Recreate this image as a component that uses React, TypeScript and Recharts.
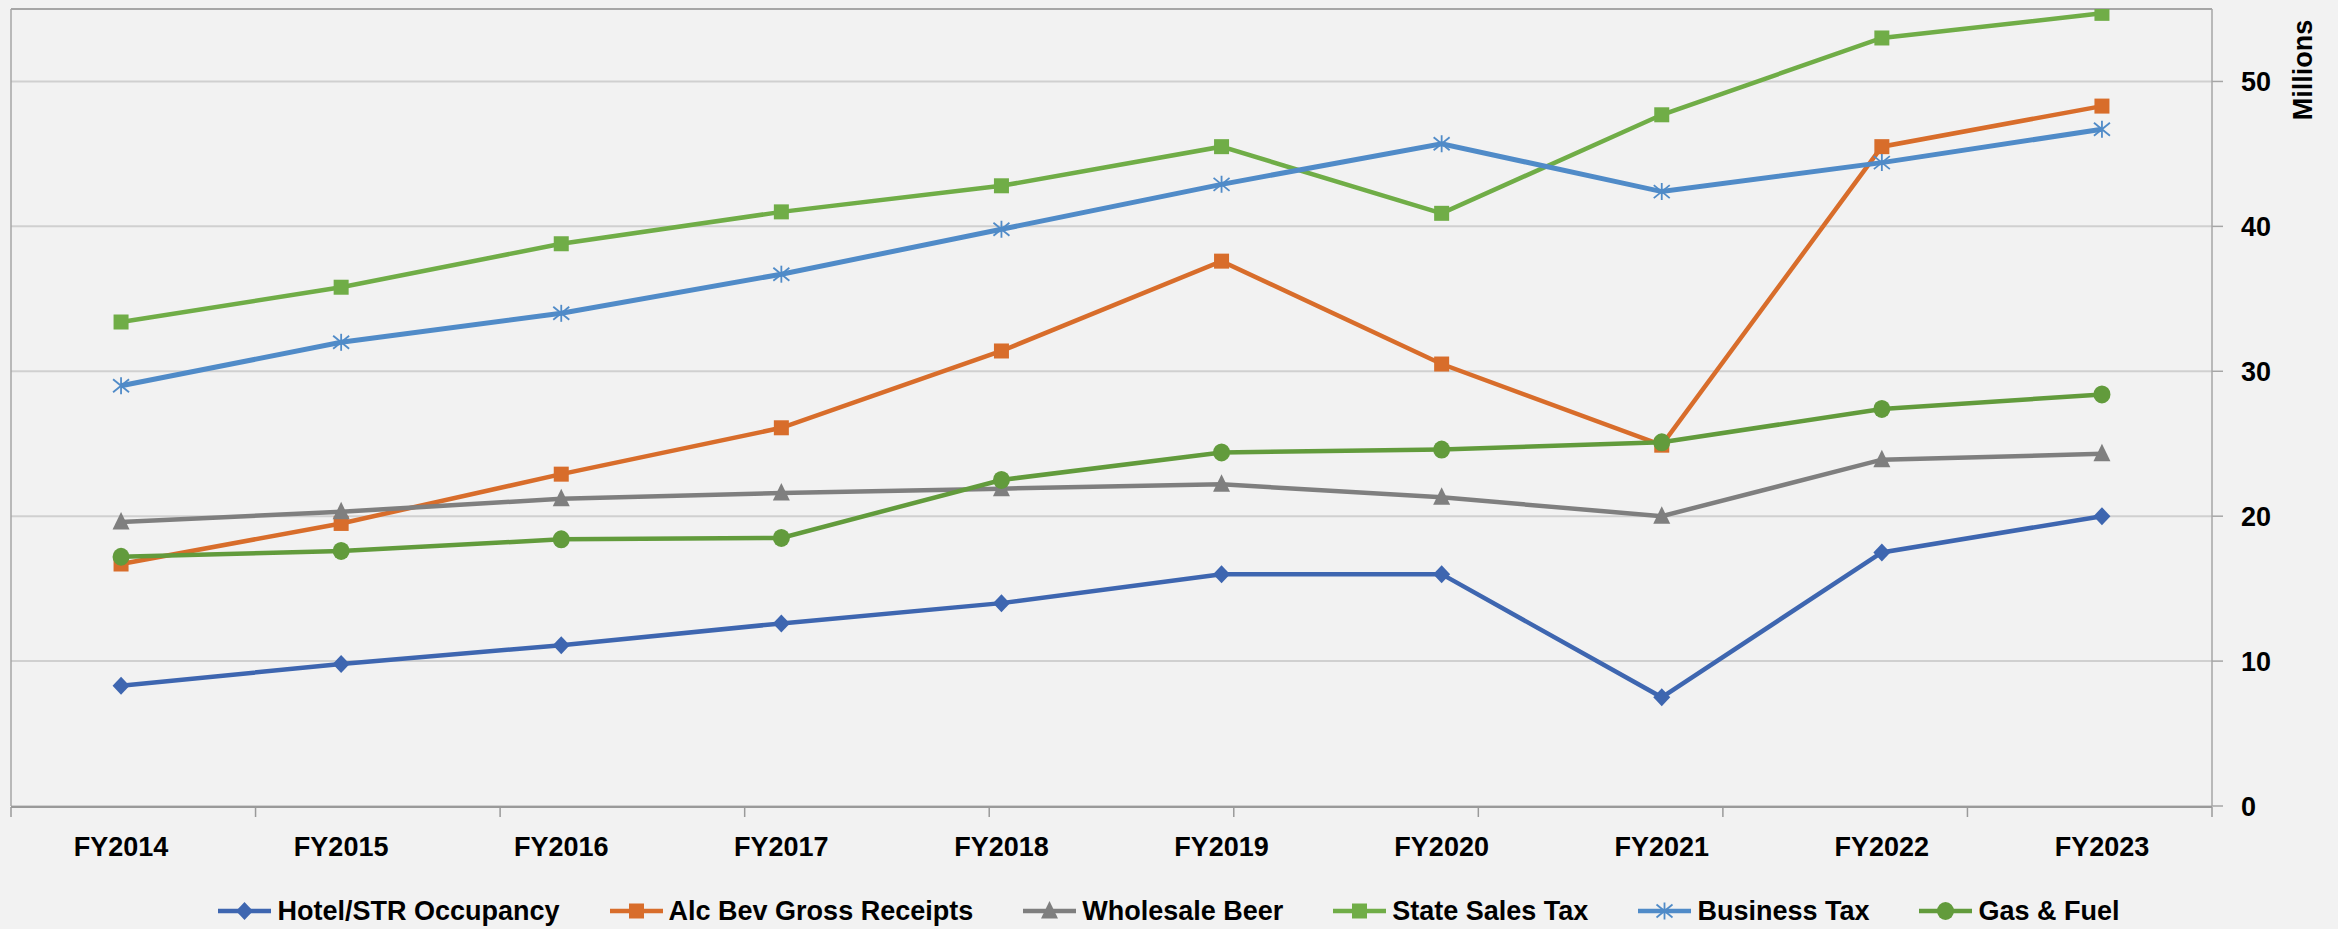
import React from 'react';
import { LineChart, Line, XAxis, YAxis, CartesianGrid, Legend, ReferenceLine } from 'recharts';

const categories = ['FY2014', 'FY2015', 'FY2016', 'FY2017', 'FY2018', 'FY2019', 'FY2020', 'FY2021', 'FY2022', 'FY2023'];
const hotel = [8.3, 9.8, 11.1, 12.6, 14.0, 16.0, 16.0, 7.5, 17.5, 20.0];
const alcBev = [16.7, 19.5, 22.9, 26.1, 31.4, 37.6, 30.5, 24.9, 45.5, 48.3];
const beer = [19.6, 20.3, 21.2, 21.6, 21.9, 22.2, 21.3, 20.0, 23.9, 24.3];
const salesTax = [33.4, 35.8, 38.8, 41.0, 42.8, 45.5, 40.9, 47.7, 53.0, 54.7];
const business = [29.0, 32.0, 34.0, 36.7, 39.8, 42.9, 45.7, 42.4, 44.4, 46.7];
const gas = [17.2, 17.6, 18.4, 18.5, 22.5, 24.4, 24.6, 25.1, 27.4, 28.4];
const yTicks = [0, 10, 20, 30, 40, 50];
const yMax = 55;

const rows = categories.map((c, i) => ({
  year: c,
  hotel: hotel[i],
  alcBev: alcBev[i],
  beer: beer[i],
  salesTax: salesTax[i],
  business: business[i],
  gas: gas[i],
}));
const boundaryTicks = categories.map((_, i) => i).concat(categories.length);

const FONT = "'Liberation Sans', Arial, sans-serif";

type MarkerFn = (cx: number, cy: number, color: string, key?: any) => React.ReactElement;

const diamond: MarkerFn = (cx, cy, color, key) => (
  <path key={key} d={`M${cx},${cy - 9}L${cx + 8.5},${cy}L${cx},${cy + 9}L${cx - 8.5},${cy}Z`} fill={color} />
);
const square: MarkerFn = (cx, cy, color, key) => (
  <rect key={key} x={cx - 7.5} y={cy - 7.5} width={15} height={15} fill={color} />
);
const triangle: MarkerFn = (cx, cy, color, key) => (
  <path key={key} d={`M${cx},${cy - 10}L${cx + 8.5},${cy + 7.5}L${cx - 8.5},${cy + 7.5}Z`} fill={color} />
);
const circle: MarkerFn = (cx, cy, color, key) => (
  <ellipse key={key} cx={cx} cy={cy} rx={8.5} ry={9} fill={color} />
);
const star: MarkerFn = (cx, cy, color, key) => (
  <g key={key} stroke={color} strokeWidth={1.8}>
    <line x1={cx} y1={cy - 8.5} x2={cx} y2={cy + 8.5} />
    <line x1={cx - 8} y1={cy - 6.5} x2={cx + 8} y2={cy + 6.5} />
    <line x1={cx - 8} y1={cy + 6.5} x2={cx + 8} y2={cy - 6.5} />
  </g>
);

const series = [
  { key: 'hotel', name: 'Hotel/STR Occupancy', color: '#3E66B0', marker: diamond, width: 4.5 },
  { key: 'alcBev', name: 'Alc Bev Gross Receipts', color: '#D86D2B', marker: square, width: 4.5 },
  { key: 'beer', name: 'Wholesale Beer', color: '#7F7F7F', marker: triangle, width: 4.5 },
  { key: 'salesTax', name: 'State Sales Tax', color: '#70AD47', marker: square, width: 4.5 },
  { key: 'business', name: 'Business Tax', color: '#508BC8', marker: star, width: 5 },
  { key: 'gas', name: 'Gas & Fuel', color: '#629B3C', marker: circle, width: 4.5 },
];

const renderLegend = () => (
  <div
    style={{
      display: 'flex',
      justifyContent: 'center',
      alignItems: 'center',
      gap: 50,
      height: 36,
      fontFamily: FONT,
      fontWeight: 'bold',
      fontSize: 27,
      color: '#000',
      whiteSpace: 'nowrap',
    }}
  >
    {series.map((s) => (
      <div key={s.key} style={{ display: 'flex', alignItems: 'center' }}>
        <svg width={53} height={24} style={{ display: 'block' }}>
          <line x1={0} y1={12} x2={53} y2={12} stroke={s.color} strokeWidth={4.5} />
          {s.marker(26.5, 12, s.color)}
        </svg>
        <span style={{ marginLeft: 6 }}>{s.name}</span>
      </div>
    ))}
  </div>
);

const MillionsLabel = (props: any) => {
  const vb = props.viewBox || {};
  const x = (vb.x || 0) + 91;
  const y = (vb.y || 0) + 61;
  return (
    <text
      x={x}
      y={y}
      transform={`rotate(-90 ${x} ${y})`}
      textAnchor="middle"
      dominantBaseline="central"
      fontFamily={FONT}
      fontWeight="bold"
      fontSize={27}
      fill="#000"
    >
      Millions
    </text>
  );
};

export default function App() {
  return (
    <div style={{ width: 2338, height: 929, background: '#F2F2F2' }}>
      <style>{`body{margin:0;background:#F2F2F2}`}</style>
      <LineChart
        width={2338}
        height={929}
        data={rows}
        margin={{ top: 9, right: 26, left: 10, bottom: 85 }}
      >
        <CartesianGrid
          xAxisId="cat"
          yAxisId="r"
          vertical={false}
          stroke="#D0D0D0"
          strokeWidth={2}
        />
        <XAxis
          xAxisId="grid"
          type="number"
          domain={[0, categories.length]}
          ticks={boundaryTicks}
          interval={0}
          tickFormatter={() => ''}
          height={1}
          tickSize={10}
          axisLine={{ stroke: '#9A9A9A', strokeWidth: 2 }}
          tickLine={{ stroke: '#9A9A9A', strokeWidth: 1.5 }}
          allowDataOverflow
        />
        <XAxis
          xAxisId="cat"
          dataKey="year"
          scale="band"
          height={1}
          axisLine={false}
          tickLine={false}
          tickSize={10}
          tickMargin={21}
          interval={0}
          tick={{ fontFamily: FONT, fontWeight: 'bold', fontSize: 27, fill: '#000' }}
        />
        <YAxis
          yAxisId="l"
          orientation="left"
          width={1}
          domain={[0, yMax]}
          tick={false}
          tickLine={false}
          axisLine={{ stroke: '#A6A6A6', strokeWidth: 1.5 }}
          allowDataOverflow
        />
        <YAxis
          yAxisId="r"
          orientation="right"
          width={100}
          domain={[0, yMax]}
          ticks={yTicks}
          interval={0}
          tickSize={11}
          tickMargin={18}
          axisLine={{ stroke: '#A6A6A6', strokeWidth: 1.5 }}
          tickLine={{ stroke: '#A6A6A6', strokeWidth: 1.5 }}
          tick={{ fontFamily: FONT, fontWeight: 'bold', fontSize: 27, fill: '#000' }}
          label={<MillionsLabel />}
          allowDataOverflow
        />
        <ReferenceLine xAxisId="cat" yAxisId="r" y={yMax} stroke="#A6A6A6" strokeWidth={2} />
        {series.map((s) => (
          <Line
            key={s.key}
            xAxisId="cat"
            yAxisId="r"
            type="linear"
            dataKey={s.key}
            name={s.name}
            stroke={s.color}
            strokeWidth={s.width}
            isAnimationActive={false}
            activeDot={false}
            dot={(p: any) => s.marker(p.cx, p.cy, s.color, `${s.key}-${p.index}`)}
          />
        ))}
        <Legend
          verticalAlign="bottom"
          height={36}
          content={renderLegend}
          wrapperStyle={{ left: 0, width: 2338, bottom: 0 }}
        />
      </LineChart>
    </div>
  );
}
